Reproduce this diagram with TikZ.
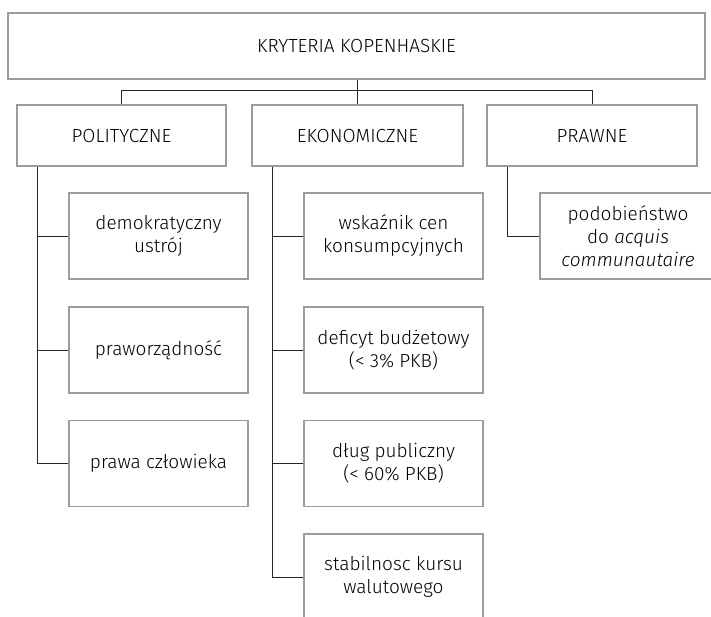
\documentclass[tikz,border=0pt]{standalone}
\usepackage{fontspec}
\setmainfont{Fira Sans Light}[ItalicFont={Fira Sans Light Italic}]
\begin{document}
\begin{tikzpicture}[x=1pt,y=-1pt,
  box/.style={draw=boxgray,line width=1.3pt,fill=white,rectangle,inner sep=0pt,
    align=center,font=\fontsize{19}{23}\selectfont,text=black},
  conn/.style={draw=black!85,line width=0.9pt}]
\definecolor{boxgray}{HTML}{9C9C9C}
\useasboundingbox (0,0) rectangle (711,617);
\clip (0,0) rectangle (711,617);
% top
\node[box,minimum width=697pt,minimum height=66pt] (top) at (356.5,46) {KRYTERIA KOPENHASKIE};
% level 2
\node[box,minimum width=209pt,minimum height=61pt] (pol) at (121.5,135.5) {POLITYCZNE};
\node[box,minimum width=211pt,minimum height=61pt] (eko) at (357.5,135.5) {EKONOMICZNE};
\node[box,minimum width=210pt,minimum height=61pt] (pra) at (592,135.5) {PRAWNE};
% politic children
\node[box,minimum width=179pt,minimum height=86pt] (p1) at (158.5,236) {demokratyczny\\ustrój};
\node[box,minimum width=179pt,minimum height=86pt] (p2) at (158.5,350) {praworządność};
\node[box,minimum width=179pt,minimum height=86pt] (p3) at (158.5,463.5) {prawa człowieka};
% economic children
\node[box,minimum width=179pt,minimum height=86pt] (e1) at (393.5,236) {wskaźnik cen\\konsumpcyjnych};
\node[box,minimum width=179pt,minimum height=86pt] (e2) at (393.5,350) {deficyt budżetowy\\(< 3\% PKB)};
\node[box,minimum width=179pt,minimum height=86pt] (e3) at (393.5,463.5) {dług publiczny\\(< 60\% PKB)};
\node[box,minimum width=179pt,minimum height=86pt] (e4) at (393.5,577) {stabilnosc kursu\\walutowego};
% legal child
\node[box,minimum width=176pt,minimum height=86pt] (r1) at (628,236) {podobieństwo\\do \textit{acquis}\\\textit{communautaire}};
% connectors
\draw[conn] (eko.north) -- (eko.north |- top.south);
\draw[conn] (pol.north) -- ++(0,-13.5) -| (pra.north);
\draw[conn] ([xshift=21.5pt]pol.south west) |- (p1.west);
\draw[conn] ([xshift=21.5pt]pol.south west) |- (p2.west);
\draw[conn] ([xshift=21.5pt]pol.south west) |- (p3.west);
\draw[conn] ([xshift=21.5pt]eko.south west) |- (e1.west);
\draw[conn] ([xshift=21.5pt]eko.south west) |- (e2.west);
\draw[conn] ([xshift=21.5pt]eko.south west) |- (e3.west);
\draw[conn] ([xshift=21.5pt]eko.south west) |- (e4.west);
\draw[conn] ([xshift=21.5pt]pra.south west) |- (r1.west);
\end{tikzpicture}
\end{document}
